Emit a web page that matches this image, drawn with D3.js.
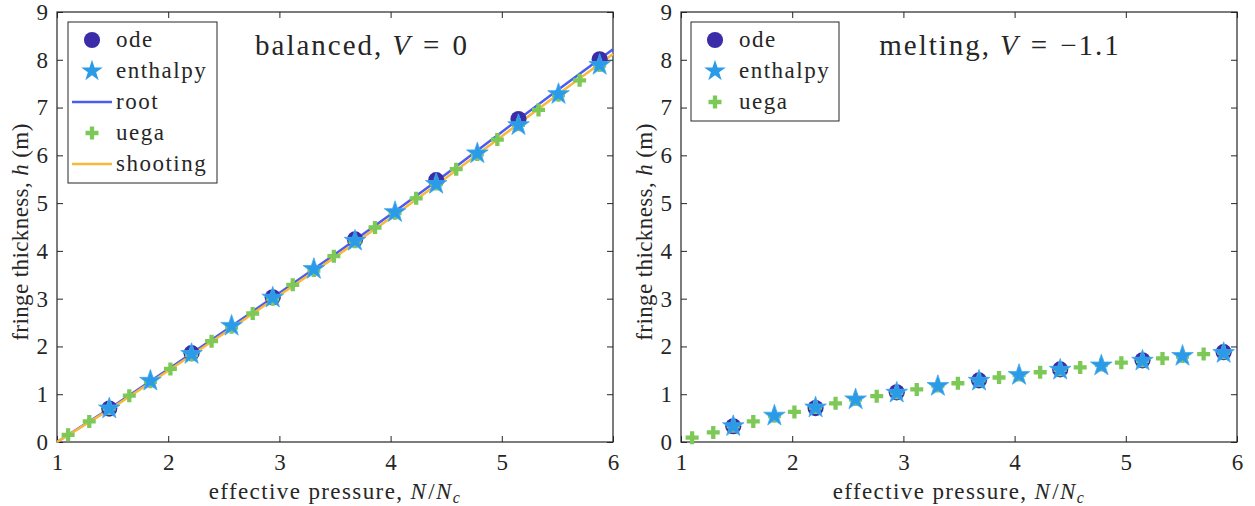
<!DOCTYPE html>
<html>
<head>
<meta charset="utf-8">
<script src="https://cdn.jsdelivr.net/npm/d3@7"></script>
<style>
  body { margin: 0; background: #fff; }
</style>
</head>
<body>
<div id="canvas"></div>
<script>
// x positions
var odeX = [1.47, 2.21, 2.94, 3.68, 4.41, 5.15, 5.88]
var enthX = [1.47, 1.84, 2.21, 2.57, 2.94, 3.31, 3.68, 4.04, 4.41, 4.78, 5.15, 5.51, 5.88]
var uegaX = [1.10, 1.29, 1.47, 1.65, 1.84, 2.02, 2.21, 2.39, 2.57, 2.76, 2.94, 3.12, 3.31, 3.49,
             3.68, 3.86, 4.04, 4.23, 4.41, 4.59, 4.78, 4.96, 5.15, 5.33, 5.51, 5.70, 5.88]
var lineX = [1, 1.5, 2, 2.5, 3, 3.5, 4, 4.5, 5, 5.5, 6]

// balanced, V = 0
var odeBal = [0.70, 1.86, 3.03, 4.24, 5.48, 6.76, 8.01]
var enthBal = [0.70, 1.28, 1.84, 2.43, 3.02, 3.62, 4.21, 4.81, 5.40, 6.04, 6.63, 7.28, 7.89]
var uegaBal = [0.15, 0.43, 0.70, 0.97, 1.26, 1.53, 1.82, 2.11, 2.40, 2.69, 2.99, 3.29, 3.59, 3.89,
               4.19, 4.49, 4.79, 5.10, 5.40, 5.71, 6.02, 6.33, 6.64, 6.95, 7.26, 7.57, 7.88]
var rootBal = [0, 0.74, 1.52, 2.31, 3.12, 3.93, 4.76, 5.61, 6.49, 7.36, 8.22]
var shootBal = [0, 0.72, 1.49, 2.27, 3.07, 3.87, 4.69, 5.53, 6.40, 7.27, 8.12]

// melting, V = -1.1
var odeMelt = [0.33, 0.71, 1.04, 1.29, 1.52, 1.71, 1.88]
var enthMelt = [0.33, 0.55, 0.72, 0.89, 1.03, 1.17, 1.28, 1.40, 1.51, 1.60, 1.70, 1.80, 1.86]
var uegaMelt = [0.09, 0.20, 0.33, 0.43, 0.54, 0.63, 0.72, 0.81, 0.89, 0.96, 1.03, 1.10, 1.17, 1.23,
                1.29, 1.35, 1.40, 1.46, 1.51, 1.56, 1.61, 1.66, 1.70, 1.75, 1.79, 1.84, 1.87]

var xTicks = [1, 2, 3, 4, 5, 6]
var yTicks = [0, 1, 2, 3, 4, 5, 6, 7, 8, 9]

var cOde = '#3b2ca8', cEnth = '#2b9be8', cUega = '#7dc957', cRoot = '#4a5cf2', cShoot = '#f7b93b'
var FONT = '"Liberation Serif", serif'

var W = 1255, H = 506
var y_top = 12, y_bot = 442

let Svg = d3.select('#canvas').append('svg')
    .attr('width', W).attr('height', H)

let yScale = d3.scaleLinear().domain([0, 9]).range([y_bot, y_top])

var star = d3.symbol().type(d3.symbolStar).size(145)
var circ = d3.symbol().type(d3.symbolCircle).size(205)

function plus(sel) {
    sel.append('path')
        .attr('d', 'M-6.5,0H6.5M0,-6.5V6.5')
        .attr('stroke', cUega).attr('stroke-width', 4.3).attr('fill', 'none')
}

function panel(x0, x1, d, title, legend) {
    let xScale = d3.scaleLinear().domain([1, 6]).range([x0, x1])
    let g = Svg.append('g')

    // axes + mirrored ticks
    g.append('g').attr('transform', `translate(0,${y_bot})`)
        .call(d3.axisBottom(xScale).tickValues(xTicks).tickFormat(d3.format('d'))
            .tickSizeInner(-6).tickSizeOuter(0).tickPadding(12))
    g.append('g').attr('transform', `translate(0,${y_top})`)
        .call(d3.axisTop(xScale).tickValues(xTicks).tickSizeInner(-6).tickSizeOuter(0).tickFormat(''))
    g.append('g').attr('transform', `translate(${x0},0)`)
        .call(d3.axisLeft(yScale).tickValues(yTicks).tickSizeInner(-6).tickSizeOuter(0).tickPadding(9))
    g.append('g').attr('transform', `translate(${x1},0)`)
        .call(d3.axisRight(yScale).tickValues(yTicks).tickSizeInner(-6).tickSizeOuter(0).tickFormat(''))
    g.selectAll('.domain').remove()
    g.selectAll('.tick line').attr('stroke', '#262626')
    g.selectAll('.tick text').style('font-size', '23px')
    g.append('rect').attr('x', x0).attr('y', y_top).attr('width', x1 - x0).attr('height', y_bot - y_top)
        .attr('fill', 'none').attr('stroke', '#262626').attr('stroke-width', 1.2)

    let line = d3.line().x((v, i) => xScale(lineX[i])).y(v => yScale(v))

    // lines underneath, then circles, pluses, stars
    if (d.root) g.append('path').datum(d.root).attr('d', line)
        .attr('fill', 'none').attr('stroke', cRoot).attr('stroke-width', 2.5)
    if (d.shoot) g.append('path').datum(d.shoot).attr('d', line)
        .attr('fill', 'none').attr('stroke', cShoot).attr('stroke-width', 2.5)
    g.selectAll('.ode').data(d.ode).enter().append('path')
        .attr('d', circ).attr('fill', cOde)
        .attr('transform', (v, i) => `translate(${xScale(odeX[i])},${yScale(v)})`)
    g.selectAll('.uega').data(d.uega).enter().append('g')
        .attr('transform', (v, i) => `translate(${xScale(uegaX[i])},${yScale(v)})`)
        .call(plus)
    g.selectAll('.enth').data(d.enth).enter().append('path')
        .attr('d', star).attr('fill', cEnth).attr('stroke', '#43a8ee').attr('stroke-width', 0.8)
        .attr('transform', (v, i) => `translate(${xScale(enthX[i])},${yScale(v)})`)

    // labels
    let xl = g.append('text').attr('x', (x0 + x1) / 2).attr('y', 499)
        .attr('text-anchor', 'middle').style('font-size', '23px').style('letter-spacing', '1.4px')
    xl.append('tspan').text('effective pressure, ')
    xl.append('tspan').text('N').style('font-style', 'italic')
    xl.append('tspan').text('/').attr('dx', 1)
    xl.append('tspan').text('N').style('font-style', 'italic')
    xl.append('tspan').text('c').style('font-style', 'italic').style('font-size', '16px').attr('dy', 4)

    let yl = g.append('text').attr('transform', `translate(${x0 - 29},232) rotate(-90)`)
        .attr('text-anchor', 'middle').style('font-size', '23px').style('letter-spacing', '0.4px')
    yl.append('tspan').text('fringe thickness, ')
    yl.append('tspan').text('h').style('font-style', 'italic')
    yl.append('tspan').text(' (m)')

    let t = g.append('text').attr('x', title.x).attr('y', 55)
        .attr('text-anchor', 'middle').style('font-size', '29px').style('letter-spacing', '2px')
    t.append('tspan').text(title.txt)
    t.append('tspan').text('V').style('font-style', 'italic').attr('dx', 9)
    t.append('tspan').text('=').attr('dx', 11)
    t.append('tspan').text(title.val).attr('dx', 11)

    // legend
    let lg = g.append('g')
    lg.append('rect').attr('x', x0 + legend.dx).attr('y', 22)
        .attr('width', legend.w).attr('height', legend.items.length * 31 + 6)
        .attr('fill', '#fff').attr('stroke', '#262626').attr('stroke-width', 1)
    legend.items.forEach(function (it, i) {
        let cy = 40 + i * 31
        let mx = x0 + legend.dx + 24
        if (it == 'ode') lg.append('path').attr('d', circ).attr('fill', cOde).attr('transform', `translate(${mx},${cy})`)
        if (it == 'enthalpy') lg.append('path').attr('d', star).attr('fill', cEnth).attr('transform', `translate(${mx},${cy})`)
        if (it == 'uega') lg.append('g').attr('transform', `translate(${mx},${cy})`).call(plus)
        if (it == 'root' || it == 'shooting')
            lg.append('line').attr('x1', mx - 20).attr('x2', mx + 20).attr('y1', cy).attr('y2', cy)
                .attr('stroke', it == 'root' ? cRoot : cShoot).attr('stroke-width', 2.5)
        lg.append('text').attr('x', x0 + legend.dx + 48).attr('y', cy + 7)
            .style('font-size', '23px').style('letter-spacing', '1.5px').text(it)
    })
}

panel(57, 613, { ode: odeBal, enth: enthBal, uega: uegaBal, root: rootBal, shoot: shootBal },
    { x: 362, txt: 'balanced,', val: '0' },
    { dx: 11, w: 149, items: ['ode', 'enthalpy', 'root', 'uega', 'shooting'] })

panel(681, 1237, { ode: odeMelt, enth: enthMelt, uega: uegaMelt },
    { x: 1000, txt: 'melting,', val: '\u22121.1' },
    { dx: 10, w: 148, items: ['ode', 'enthalpy', 'uega'] })

// serif everywhere
Svg.selectAll('text').style('font-family', FONT).attr('fill', '#262626')
</script>
</body>
</html>
